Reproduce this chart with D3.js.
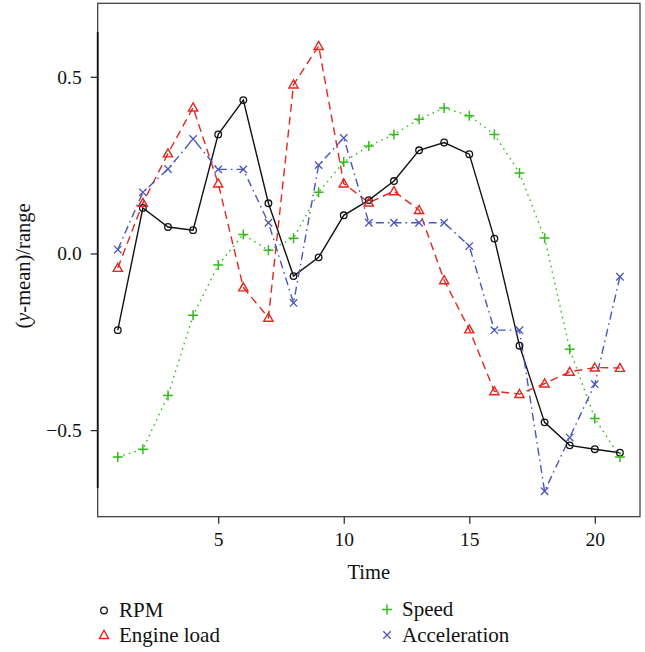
<!DOCTYPE html>
<html>
<head>
<meta charset="utf-8">
<script src="https://cdn.jsdelivr.net/npm/d3@7"></script>
<style>
  html, body { margin: 0; padding: 0; background: #fff; }
  svg text { font-family: "Liberation Serif", "DejaVu Serif", serif; fill: #111; }
</style>
</head>
<body>
<svg id="chart" width="645" height="652"></svg>
<script>
// ── data ──
const time = d3.range(1, 22);
const rpm = [-0.217, 0.129, 0.075, 0.066, 0.337, 0.434, 0.142, -0.064, -0.011, 0.108,
             0.151, 0.205, 0.292, 0.314, 0.281, 0.042, -0.261, -0.478, -0.543, -0.554, -0.564];
const engineLoad = [-0.041, 0.143, 0.283, 0.413, 0.198, -0.096, -0.182, 0.478, 0.587, 0.198,
                    0.144, 0.176, 0.123, -0.076, -0.215, -0.390, -0.398, -0.368, -0.335, -0.323, -0.324];
const speed = [-0.576, -0.554, -0.402, -0.175, -0.033, 0.054, 0.009, 0.043, 0.173, 0.259,
               0.304, 0.337, 0.380, 0.412, 0.390, 0.337, 0.228, 0.044, -0.271, -0.467, -0.576];
const acceleration = [0.011, 0.173, 0.239, 0.324, 0.238, 0.238, 0.087, -0.140, 0.250, 0.327,
                      0.087, 0.087, 0.087, 0.087, 0.021, -0.217, -0.217, -0.673, -0.521, -0.370, -0.066];
const xTicks = [5, 10, 15, 20];
const yTicks = [-0.5, 0.0, 0.5];
const xDomain = [0.2, 21.8];
const yDomain = [-0.745, 0.708];
const yAxisSpan = [-0.664, 0.627];

const series = [
  { name: 'RPM',          values: rpm,          color: '#111111', dash: null,        shape: 'circle' },
  { name: 'Engine load',  values: engineLoad,   color: '#E5261F', dash: '8,5',       shape: 'triangle' },
  { name: 'Speed',        values: speed,        color: '#35BA1C', dash: '1.6,4.2',   shape: 'plus' },
  { name: 'Acceleration', values: acceleration, color: '#4A55BE', dash: '8,4,1.6,4', shape: 'cross' },
];

// ── layout ──
const L = 97.7, R = 640, T = 3.3, B = 516.7;
const svg = d3.select('#chart');
const x = d3.scaleLinear().domain(xDomain).range([L, R]);
const y = d3.scaleLinear().domain(yDomain).range([B, T]);

// box
svg.append('rect')
  .attr('x', L).attr('y', T).attr('width', R - L).attr('height', B - T)
  .attr('fill', 'none').attr('stroke', '#333').attr('stroke-width', 1.2);

// left axis line (darker span)
svg.append('line')
  .attr('x1', L).attr('x2', L)
  .attr('y1', y(yAxisSpan[1])).attr('y2', y(yAxisSpan[0]))
  .attr('stroke', '#111').attr('stroke-width', 1.8);

// x axis
const xAxis = svg.append('g')
  .attr('transform', `translate(0,${B})`)
  .call(d3.axisBottom(x).tickValues(xTicks).tickSize(7).tickPadding(8).tickFormat(d3.format('d')));
xAxis.select('.domain').remove();
xAxis.selectAll('line').attr('stroke', '#222').attr('stroke-width', 1.2);
xAxis.selectAll('text').attr('font-size', 19.5).attr('fill', '#111')
  .attr('font-family', '"Liberation Serif", serif');

// y axis
const yAxis = svg.append('g')
  .attr('transform', `translate(${L},0)`)
  .call(d3.axisLeft(y).tickValues(yTicks).tickSize(7).tickPadding(9)
    .tickFormat(d => (d < 0 ? '\u2212' : '') + Math.abs(d).toFixed(1)));
yAxis.select('.domain').remove();
yAxis.selectAll('line').attr('stroke', '#222').attr('stroke-width', 1.2);
yAxis.selectAll('text').attr('font-size', 19.5).attr('fill', '#111')
  .attr('font-family', '"Liberation Serif", serif');

// axis titles
svg.append('text')
  .attr('x', (L + R) / 2).attr('y', 579)
  .attr('text-anchor', 'middle').attr('font-size', 20.5)
  .text('Time');

const yl = svg.append('text')
  .attr('transform', `translate(30,${(T + B) / 2 + 6}) rotate(-90)`)
  .attr('text-anchor', 'middle').attr('font-size', 20.5);
yl.append('tspan').text('(');
yl.append('tspan').attr('font-style', 'italic').text('y');
yl.append('tspan').text('-mean)/range');

// marker drawing
function drawMarker(g, shape, color, cx, cy) {
  if (shape === 'circle') {
    g.append('circle').attr('cx', cx).attr('cy', cy).attr('r', 3.3)
      .attr('fill', 'none').attr('stroke', color).attr('stroke-width', 1.3);
  } else if (shape === 'triangle') {
    const s = 4.6;
    g.append('path')
      .attr('d', `M${cx},${cy - s} L${cx + s},${cy + s * 0.75} L${cx - s},${cy + s * 0.75} Z`)
      .attr('fill', 'none').attr('stroke', color).attr('stroke-width', 1.4);
  } else if (shape === 'plus') {
    const s = 5;
    g.append('path')
      .attr('d', `M${cx - s},${cy} H${cx + s} M${cx},${cy - s} V${cy + s}`)
      .attr('stroke', color).attr('stroke-width', 1.5).attr('fill', 'none');
  } else if (shape === 'cross') {
    const s = 3.7;
    g.append('path')
      .attr('d', `M${cx - s},${cy - s} L${cx + s},${cy + s} M${cx - s},${cy + s} L${cx + s},${cy - s}`)
      .attr('stroke', color).attr('stroke-width', 1.3).attr('fill', 'none');
  }
}

const line = d3.line().x((d, i) => x(time[i])).y(d => y(d));

const plot = svg.append('g');
series.forEach(s => {
  plot.append('path')
    .datum(s.values)
    .attr('d', line)
    .attr('fill', 'none')
    .attr('stroke', s.color)
    .attr('stroke-width', 1.4)
    .attr('stroke-dasharray', s.dash);
});
series.forEach(s => {
  const g = plot.append('g');
  s.values.forEach((v, i) => drawMarker(g, s.shape, s.color, x(time[i]), y(v)));
});

// legend
const legPos = [[104, 610.5], [104, 635], [387, 609.5], [387, 635]];
const legOrder = ['RPM', 'Engine load', 'Speed', 'Acceleration'];
legOrder.forEach((name, i) => {
  const s = series.find(d => d.name === name);
  const [lx, ly] = legPos[i];
  drawMarker(svg, s.shape, s.color, lx, ly);
  svg.append('text')
    .attr('x', lx + 15).attr('y', ly + 6.5)
    .attr('font-size', 21)
    .text(name);
});
</script>
</body>
</html>
